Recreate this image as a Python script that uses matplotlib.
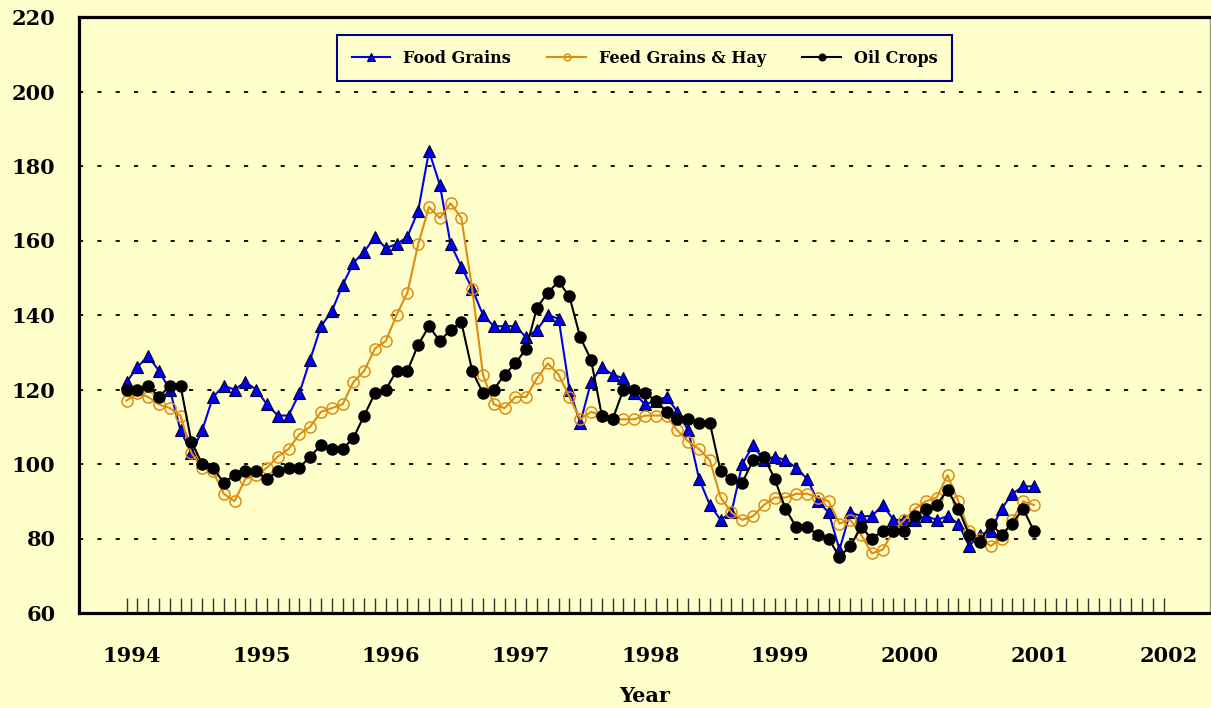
import numpy as np
import matplotlib.pyplot as plt

# Dados mensais (jan/1994 - jan/2001)
food_grains = [122, 126, 129, 125, 120, 109, 103, 109, 118, 121, 120, 122,
               120, 116, 113, 113, 119, 128, 137, 141, 148, 154, 157, 161,
               158, 159, 161, 168, 184, 175, 159, 153, 147, 140, 137, 137,
               137, 134, 136, 140, 139, 120, 111, 122, 126, 124, 123, 119,
               116, 117, 118, 114, 109, 96, 89, 85, 87, 100, 105, 101,
               102, 101, 99, 96, 90, 87, 77, 87, 86, 86, 89, 85,
               85, 85, 86, 85, 86, 84, 78, 81, 82, 88, 92, 94,
               94]
feed_grains = [117, 119, 118, 116, 115, 113, 103, 99, 98, 92, 90, 96,
               97, 99, 102, 104, 108, 110, 114, 115, 116, 122, 125, 131,
               133, 140, 146, 159, 169, 166, 170, 166, 147, 124, 116, 115,
               118, 118, 123, 127, 124, 118, 112, 114, 113, 112, 112, 112,
               113, 113, 113, 109, 106, 104, 101, 91, 87, 85, 86, 89,
               91, 91, 92, 92, 91, 90, 84, 85, 81, 76, 77, 82,
               85, 88, 90, 91, 97, 90, 82, 80, 78, 80, 85, 90,
               89]
oil_crops = [120, 120, 121, 118, 121, 121, 106, 100, 99, 95, 97, 98,
             98, 96, 98, 99, 99, 102, 105, 104, 104, 107, 113, 119,
             120, 125, 125, 132, 137, 133, 136, 138, 125, 119, 120, 124,
             127, 131, 142, 146, 149, 145, 134, 128, 113, 112, 120, 120,
             119, 117, 114, 112, 112, 111, 111, 98, 96, 95, 101, 102,
             96, 88, 83, 83, 81, 80, 75, 78, 83, 80, 82, 82,
             82, 86, 88, 89, 93, 88, 81, 79, 84, 81, 84, 88,
             82]
years = ['1994', '1995', '1996', '1997', '1998', '1999', '2000', '2001', '2002']

plt.rcParams['font.family'] = 'DejaVu Serif'
plt.rcParams['font.weight'] = 'bold'
plt.rcParams['lines.scale_dashes'] = False

bg = '#FFFFCC'
fig = plt.figure(figsize=(12.11, 7.08), dpi=100, facecolor=bg)
ax = fig.add_axes([79 / 1211, 95 / 708, 1131 / 1211, 596 / 708])
ax.set_facecolor(bg)

meses = np.arange(len(food_grains))
ax.plot(meses, food_grains, color='#0000EE', linewidth=1.5, marker='^', markersize=9,
        markerfacecolor='#0000EE', markeredgecolor='#000033', markeredgewidth=0.8,
        label='Food Grains', zorder=3)
ax.plot(meses, feed_grains, color='#E08C10', linewidth=1.5, marker='o', markersize=8,
        markerfacecolor='none', markeredgecolor='#E08C10', markeredgewidth=1.1,
        label='Feed Grains & Hay', zorder=4)
ax.plot(meses, oil_crops, color='black', linewidth=1.5, marker='o', markersize=8,
        markerfacecolor='black', markeredgecolor='black',
        label='Oil Crops', zorder=5)

ax.set_xlim(-4.4, 100.3)
ax.set_ylim(60, 220)

ax.set_yticks(np.arange(60, 221, 20))
ax.tick_params(axis='y', length=0, pad=17, labelsize=15)
for y in range(80, 220, 20):
    ax.axhline(y, color='black', linewidth=1.3, linestyle=(0, (3, 10.2)), zorder=1)

ax.set_xticks(np.arange(0, 97, 12) + 0.5)
ax.set_xticklabels(years)
ax.tick_params(axis='x', which='major', length=0, pad=24, labelsize=15)
ax.set_xticks(np.arange(0, 97), minor=True)
ax.tick_params(axis='x', which='minor', direction='in', length=11, width=1, color='#333333')

ax.set_xlabel('Year', fontsize=15, fontweight='bold', labelpad=14)

for s in ['top', 'left', 'bottom']:
    ax.spines[s].set_linewidth(2.3)
    ax.spines[s].set_color('black')
ax.spines['right'].set_linewidth(1)
ax.spines['right'].set_color('#999977')

leg = ax.legend(loc='center', bbox_to_anchor=(0.5, 0.931), ncol=3, fontsize=11.5,
                frameon=True, fancybox=False, framealpha=1, facecolor=bg,
                edgecolor='#000080', markerscale=0.6, handlelength=2.4,
                columnspacing=2.3, borderpad=0.9)
leg.get_frame().set_linewidth(1.5)

plt.savefig('out.png', dpi=100, facecolor=bg)
